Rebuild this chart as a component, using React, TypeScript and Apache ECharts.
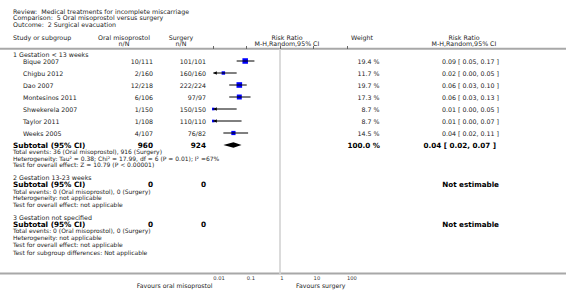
import React, { useEffect, useRef } from "react";
import * as echarts from "echarts";

// ---------- data ----------
const reviewLine = "Review:  Medical treatments for incomplete miscarriage";
const comparisonLine = "Comparison:  5 Oral misoprostol versus surgery";
const outcomeLine = "Outcome:  2 Surgical evacuation";

const expName = "Oral misoprostol";
const ctrlName = "Surgery";

const studies = ["Bique 2007", "Chigbu 2012", "Dao 2007", "Montesinos 2011", "Shwekerela 2007", "Taylor 2011", "Weeks 2005"];
const expEvents = [10, 2, 12, 6, 1, 1, 4];
const expTotals = [111, 160, 218, 106, 150, 108, 107];
const ctrlEvents = [101, 160, 222, 97, 150, 110, 76];
const ctrlTotals = [101, 160, 224, 97, 150, 110, 82];
const weights = [19.4, 11.7, 19.7, 17.3, 8.7, 8.7, 14.5];
const rrEst = [0.09, 0.02, 0.06, 0.06, 0.01, 0.01, 0.04];
const rrLow = [0.05, 0.004, 0.03, 0.03, 0.001, 0.001, 0.02];
const rrHigh = [0.17, 0.05, 0.1, 0.13, 0.05, 0.07, 0.11];

const groupNames = ["1 Gestation < 13 weeks", "2 Gestation 13-23 weeks", "3 Gestation not specified"];
const groupStudyCounts = [7, 0, 0];
const groupExpTotals = [960, 0, 0];
const groupCtrlTotals = [924, 0, 0];
const groupExpEvents = [36, 0, 0];
const groupCtrlEvents = [916, 0, 0];
const groupWeights: (number | null)[] = [100.0, null, null];
const groupEst: (number | null)[] = [0.04, null, null];
const groupLow: (number | null)[] = [0.02, null, null];
const groupHigh: (number | null)[] = [0.07, null, null];
const groupHeterogeneity = [
  "Heterogeneity: Tau² = 0.38; Chi² = 17.99, df = 6 (P = 0.01); I² =67%",
  "Heterogeneity: not applicable",
  "Heterogeneity: not applicable",
];
const groupOverall = [
  "Test for overall effect: Z = 10.79 (P < 0.00001)",
  "Test for overall effect: not applicable",
  "Test for overall effect: not applicable",
];
const subgroupTest = "Test for subgroup differences: Not applicable";

const axisMin = 0.01;
const axisMax = 100;
const favoursLeft = "Favours oral misoprostol";
const favoursRight = "Favours surgery";

// ---------- layout ----------
const W = 566;
const H = 297;
const GRID_TOP = 49;
const GRID_BOTTOM = 274;
const GRID_LEFT = 213.3;
const GRID_RIGHT = 347;
const FONT = '"DejaVu Sans", Verdana, sans-serif';
const TXT = "#222";

const X = {
  group: 13,
  study: 23,
  expRight: 153,
  ctrlRight: 206,
  weightRight: 379.5,
  rrRight: 499,
  rrBoldRight: 496,
  expHead: 124,
  ctrlHead: 181,
  plotHead: 287,
  weightHead: 362,
  rrHead: 464,
};

const fmt2 = (v: number) => v.toFixed(2);
const rrText = (e: number, l: number, h: number) => `${fmt2(e)} [ ${fmt2(l)}, ${fmt2(h)} ]`;

function txt(text: string, x: number, y: number, opts: any = {}) {
  return {
    type: "text",
    silent: true,
    style: {
      text,
      x,
      y,
      fill: opts.fill || TXT,
      fontSize: opts.size || 6.3,
      fontFamily: FONT,
      fontWeight: opts.bold ? "bold" : "normal",
      align: opts.align || "left",
      verticalAlign: "middle",
    },
  };
}

export default function App() {
  const ref = useRef<HTMLDivElement>(null);

  useEffect(() => {
    if (!ref.current) return;
    const chart = echarts.init(ref.current, null, { renderer: "svg" });

    const graphics: any[] = [];
    // title block
    graphics.push(txt(reviewLine, 13, 11.7));
    graphics.push(txt(comparisonLine, 13, 17.9));
    graphics.push(txt(outcomeLine, 13, 24.1));
    // column headers
    const h1 = 37.3;
    const h2 = 43;
    graphics.push(txt("Study or subgroup", 13, h1));
    graphics.push(txt(expName, X.expHead, h1, { align: "center" }));
    graphics.push(txt("n/N", X.expHead, h2, { align: "center" }));
    graphics.push(txt(ctrlName, X.ctrlHead, h1, { align: "center" }));
    graphics.push(txt("n/N", X.ctrlHead, h2, { align: "center" }));
    graphics.push(txt("Risk Ratio", X.plotHead, h1, { align: "center" }));
    graphics.push(txt("M-H,Random,95% CI", X.plotHead, h2, { align: "center" }));
    graphics.push(txt("Weight", X.weightHead, h1, { align: "center" }));
    graphics.push(txt("Risk Ratio", X.rrHead, h1, { align: "center" }));
    graphics.push(txt("M-H,Random,95% CI", X.rrHead, h2, { align: "center" }));
    // rules
    graphics.push({ type: "line", silent: true, z: 0, shape: { x1: 0, y1: 48.8, x2: W, y2: 48.8 }, style: { stroke: "#a8a8a8", lineWidth: 2 } });
    graphics.push({ type: "line", silent: true, z: 0, shape: { x1: 0, y1: GRID_BOTTOM - 0.5, x2: W, y2: GRID_BOTTOM - 0.5 }, style: { stroke: "#a8a8a8", lineWidth: 2 } });

    const squareData: any[] = [];
    const ciData: any[] = [];
    const diamondData: any[] = [];

    let y = 54.7;
    let studyIdx = 0;
    groupNames.forEach((gName, g) => {
      const hasStudies = groupStudyCounts[g] > 0;
      graphics.push(txt(gName, X.group, hasStudies ? y : y - 0.8));
      y += 6.3;
      for (let k = 0; k < groupStudyCounts[g]; k++, studyIdx++) {
        const i = studyIdx;
        graphics.push(txt(studies[i], X.study, y));
        graphics.push(txt(`${expEvents[i]}/${expTotals[i]}`, X.expRight, y, { align: "right" }));
        graphics.push(txt(`${ctrlEvents[i]}/${ctrlTotals[i]}`, X.ctrlRight, y, { align: "right" }));
        graphics.push(txt(`${weights[i].toFixed(1)} %`, X.weightRight, y, { align: "right" }));
        graphics.push(txt(rrText(rrEst[i], rrLow[i], rrHigh[i]), X.rrRight, y, { align: "right" }));
        const yv = y - GRID_TOP;
        squareData.push({ value: [rrEst[i], yv], w: weights[i] });
        ciData.push([rrEst[i], rrLow[i], rrHigh[i], yv]);
        y += 12;
      }
      // subtotal row
      graphics.push(txt("Subtotal (95% CI)", X.group, y, { bold: true, size: 7.3, fill: "#000" }));
      graphics.push(txt(String(groupExpTotals[g]), X.expRight, y, { bold: true, size: 7.3, fill: "#000", align: "right" }));
      graphics.push(txt(String(groupCtrlTotals[g]), X.ctrlRight, y, { bold: true, size: 7.3, fill: "#000", align: "right" }));
      const gw = groupWeights[g];
      const ge = groupEst[g];
      if (gw !== null && ge !== null) {
        graphics.push(txt(`${gw.toFixed(1)} %`, X.weightRight + 0.5, y, { bold: true, size: 7.2, fill: "#000", align: "right" }));
        graphics.push(txt(rrText(ge, groupLow[g] as number, groupHigh[g] as number), X.rrBoldRight, y, { bold: true, size: 7.2, fill: "#000", align: "right" }));
        diamondData.push([ge, groupLow[g], groupHigh[g], y - GRID_TOP]);
      } else {
        graphics.push(txt("Not estimable", X.rrRight, y, { bold: true, size: 7.2, fill: "#000", align: "right" }));
      }
      const noteY = y;
      graphics.push(txt(`Total events: ${groupExpEvents[g]} (${expName}), ${groupCtrlEvents[g]} (${ctrlName})`, X.group, noteY + 6.6, { size: 6 }));
      graphics.push(txt(groupHeterogeneity[g], X.group, noteY + 13.2, { size: 6 }));
      graphics.push(txt(groupOverall[g], X.group, noteY + 19.8, { size: 6 }));
      y = noteY + 19.8 + 13.5;
    });
    graphics.push(txt(subgroupTest, X.group, y - 5.5, { size: 6 }));
    // favours labels
    graphics.push(txt(favoursLeft, 212.5, 285, { align: "right", size: 6.2 }));
    graphics.push(txt(favoursRight, 296, 285, { align: "left", size: 6.2 }));

    const option: any = {
      animation: false,
      backgroundColor: "#fff",
      grid: {
        left: GRID_LEFT,
        top: GRID_TOP,
        width: GRID_RIGHT - GRID_LEFT,
        height: GRID_BOTTOM - GRID_TOP,
        containLabel: false,
      },
      xAxis: {
        type: "log",
        logBase: 10,
        min: axisMin,
        max: axisMax,
        axisLine: { show: false },
        axisTick: { show: true, inside: true, length: 3, lineStyle: { color: "#666", width: 1 } },
        axisLabel: {
          show: true,
          align: "left",
          margin: 1.5,
          fontSize: 5.2,
          fontFamily: FONT,
          color: "#333",
          formatter: (v: number) => String(Number(v.toPrecision(2))),
        },
        splitLine: { show: false },
      },
      yAxis: {
        type: "value",
        inverse: true,
        min: 0,
        max: GRID_BOTTOM - GRID_TOP,
        show: false,
      },
      graphic: graphics,
      series: [
        {
          type: "scatter",
          z: 2,
          symbol: "rect",
          symbolSize: (_v: any, p: any) => 0.27 * squareData[p.dataIndex].w + 0.3,
          itemStyle: { color: "#0000ff", opacity: 1 },
          data: squareData.map((d) => d.value),
          markLine: {
            silent: true,
            symbol: ["none", "none"],
            label: { show: false },
            lineStyle: { color: "#d2d2d2", width: 1.6, type: "solid" },
            data: [{ xAxis: 1 }],
            z: 1,
          },
        },
        {
          type: "custom",
          z: 3,
          clip: false,
          data: ciData,
          encode: { x: [0, 1, 2], y: 3 },
          renderItem: (_p: any, api: any) => {
            const lo = api.value(1);
            const hi = api.value(2);
            const yv = api.value(3);
            const a = api.coord([Math.max(lo, axisMin), yv]);
            const b = api.coord([Math.min(hi, axisMax), yv]);
            const children: any[] = [
              { type: "line", shape: { x1: a[0], y1: a[1], x2: b[0], y2: b[1] }, style: { stroke: "#000", lineWidth: 1 } },
            ];
            if (lo < axisMin) {
              children.push({ type: "polygon", shape: { points: [[a[0], a[1]], [a[0] + 3.5, a[1] - 1.7], [a[0] + 3.5, a[1] + 1.7]] }, style: { fill: "#000" } });
            }
            if (hi > axisMax) {
              children.push({ type: "polygon", shape: { points: [[b[0], b[1]], [b[0] - 3.5, b[1] - 1.7], [b[0] - 3.5, b[1] + 1.7]] }, style: { fill: "#000" } });
            }
            return { type: "group", children };
          },
        },
        {
          type: "custom",
          z: 3,
          clip: false,
          data: diamondData,
          encode: { x: [0, 1, 2], y: 3 },
          renderItem: (_p: any, api: any) => {
            const yv = api.value(3);
            const c = api.coord([api.value(0), yv]);
            const l = api.coord([api.value(1), yv]);
            const r = api.coord([api.value(2), yv]);
            return {
              type: "polygon",
              shape: { points: [[l[0], l[1]], [c[0], c[1] - 2.8], [r[0], r[1]], [c[0], c[1] + 2.8]] },
              style: { fill: "#000" },
            };
          },
        },
      ],
    };

    chart.setOption(option);
    return () => chart.dispose();
  }, []);

  return <div ref={ref} style={{ position: "fixed", left: 0, top: 0, width: W, height: H, background: "#fff" }} />;
}
